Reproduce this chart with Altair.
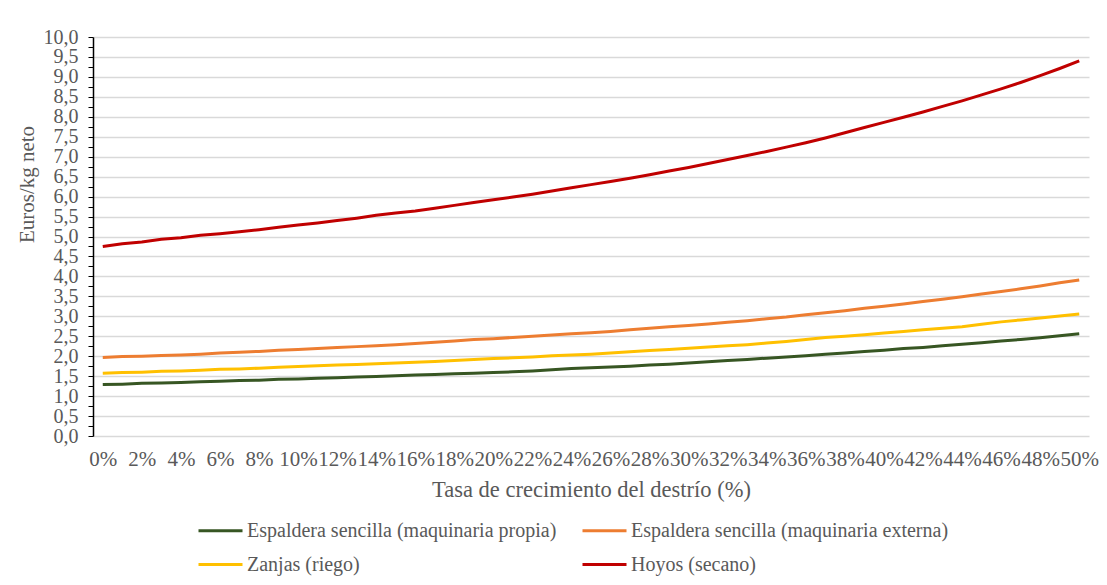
import altair as alt
import pandas as pd

tasa = list(range(0, 51))

series_names = [
    "Espaldera sencilla (maquinaria propia)",
    "Espaldera sencilla (maquinaria externa)",
    "Zanjas (riego)",
    "Hoyos (secano)",
]
series_colors = ["#375623", "#ED7D31", "#FFC000", "#C00000"]

propia = [1.29, 1.30, 1.32, 1.33, 1.34, 1.36, 1.37, 1.39, 1.40, 1.42,
          1.43, 1.45, 1.46, 1.48, 1.49, 1.51, 1.53, 1.54, 1.56, 1.57,
          1.59, 1.61, 1.63, 1.66, 1.69, 1.71, 1.73, 1.75, 1.78, 1.80,
          1.83, 1.86, 1.89, 1.92, 1.95, 1.98, 2.01, 2.05, 2.08, 2.12,
          2.15, 2.19, 2.22, 2.26, 2.30, 2.34, 2.38, 2.42, 2.46, 2.51, 2.56]
externa = [1.97, 1.99, 2.00, 2.02, 2.03, 2.05, 2.08, 2.10, 2.12, 2.15,
           2.17, 2.19, 2.22, 2.24, 2.26, 2.29, 2.32, 2.35, 2.38, 2.42,
           2.44, 2.47, 2.50, 2.53, 2.56, 2.59, 2.62, 2.66, 2.70, 2.74,
           2.77, 2.81, 2.85, 2.89, 2.94, 2.98, 3.04, 3.09, 3.14, 3.20,
           3.25, 3.31, 3.37, 3.43, 3.49, 3.56, 3.62, 3.69, 3.76, 3.84, 3.91]
zanjas = [1.57, 1.59, 1.60, 1.62, 1.63, 1.65, 1.67, 1.68, 1.70, 1.72,
          1.74, 1.76, 1.78, 1.79, 1.81, 1.83, 1.85, 1.87, 1.89, 1.92,
          1.94, 1.96, 1.98, 2.01, 2.03, 2.05, 2.08, 2.11, 2.14, 2.17,
          2.20, 2.23, 2.26, 2.29, 2.33, 2.37, 2.42, 2.47, 2.50, 2.54,
          2.58, 2.62, 2.66, 2.70, 2.74, 2.80, 2.86, 2.91, 2.96, 3.01, 3.06]
hoyos = [4.75, 4.82, 4.86, 4.93, 4.97, 5.03, 5.07, 5.12, 5.17, 5.23,
         5.29, 5.34, 5.40, 5.46, 5.53, 5.59, 5.64, 5.71, 5.78, 5.85,
         5.92, 5.99, 6.06, 6.14, 6.22, 6.30, 6.38, 6.46, 6.55, 6.64,
         6.73, 6.83, 6.93, 7.03, 7.13, 7.24, 7.35, 7.47, 7.60, 7.73,
         7.86, 7.99, 8.12, 8.26, 8.40, 8.55, 8.70, 8.86, 9.03, 9.21, 9.40]

x_ticks = list(range(0, 51, 2))
y_ticks = [i * 0.25 for i in range(0, 41)]

rows = []
for name, vals in zip(series_names, [propia, externa, zanjas, hoyos]):
    for t, v in zip(tasa, vals):
        rows.append({"tasa": t, "valor": v, "serie": name})
df = pd.DataFrame(rows)

FONT = "Liberation Serif"
GREY = "#595959"

chart = alt.Chart(df).mark_line(strokeWidth=3, interpolate="linear").encode(
    x=alt.X(
        "tasa:Q",
        scale=alt.Scale(domain=[-0.5, 50.5], nice=False, zero=False),
        axis=alt.Axis(
            values=x_ticks,
            labelExpr="datum.value + '%'",
            labelOverlap=False,
            labelBound=False,
            labelFlush=False,
            ticks=False,
            grid=False,
            domain=False,
            labelPadding=12,
            labelFontSize=21,
            labelColor=GREY,
            labelFont=FONT,
            title="Tasa de crecimiento del destrío (%)",
            titleFontSize=22.5,
            titleFont=FONT,
            titleColor=GREY,
            titleFontWeight="normal",
            titlePadding=9,
        ),
    ),
    y=alt.Y(
        "valor:Q",
        scale=alt.Scale(domain=[0, 10], nice=False),
        axis=alt.Axis(
            values=y_ticks,
            labelExpr="datum.value % 0.5 == 0 ? replace(format(datum.value, '.1f'), '.', ',') : ''",
            labelOverlap=False,
            labelBound=False,
            labelFlush=False,
            gridColor={"condition": {"test": "datum.value % 0.5 != 0", "value": "transparent"}, "value": "#d9d9d9"},
            gridWidth=1.5,
            domainColor="#000000",
            domainWidth=1.5,
            tickColor="#000000",
            tickSize=5,
            labelPadding=10,
            labelFontSize=20,
            labelColor=GREY,
            labelFont=FONT,
            title="Euros/kg neto",
            titleFontSize=21,
            titleFont=FONT,
            titleColor=GREY,
            titleFontWeight="normal",
            titleX=-56,
            titleY=147,
        ),
    ),
    color=alt.Color(
        "serie:N",
        scale=alt.Scale(domain=series_names, range=series_colors),
        sort=series_names,
        legend=alt.Legend(
            title=None,
            orient="none",
            direction="horizontal",
            legendX=104,
            legendY=470,
            columns=2,
            symbolType="stroke",
            symbolSize=1936,
            symbolStrokeWidth=3,
            labelFontSize=20,
            labelFont=FONT,
            labelColor=GREY,
            labelOffset=3,
            columnPadding=19,
            rowPadding=-8,
            padding=0,
            labelLimit=600,
        ),
    ),
).properties(
    width=996,
    height=399,
    autosize=alt.AutoSizeParams(type="none"),
    padding={"left": 85, "top": 29, "right": 10, "bottom": 141},
).configure_view(stroke=None)

chart.save("out.html", embed_options={"renderer": "svg", "actions": False})
